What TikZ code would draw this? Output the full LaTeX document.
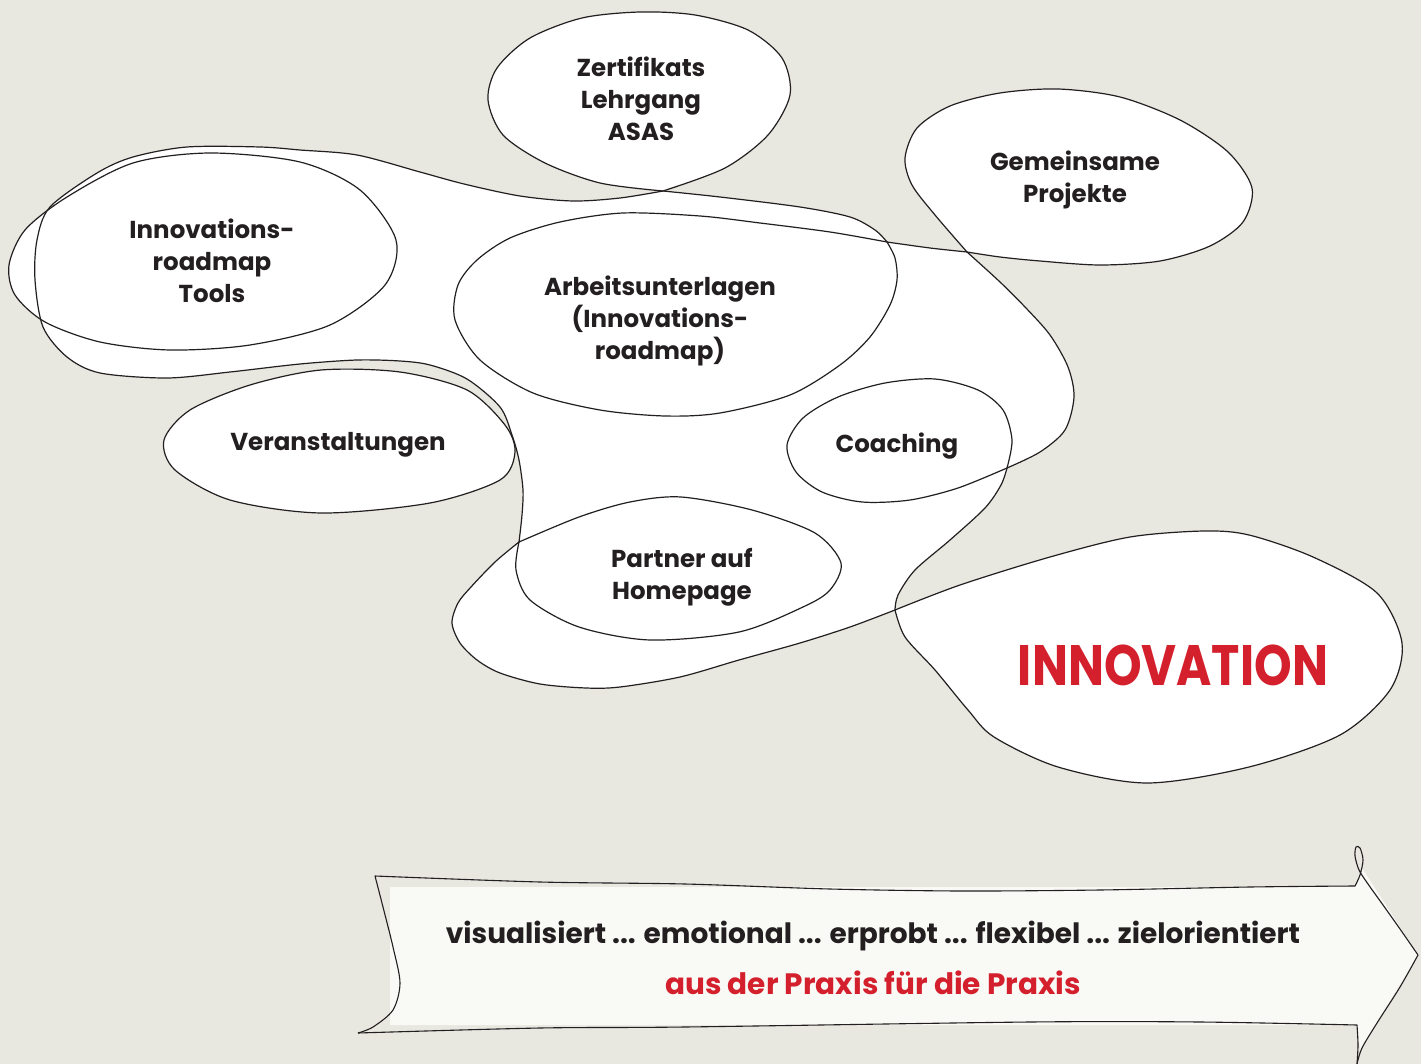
\documentclass[tikz,border=0pt]{standalone}
\usepackage{fontspec}
\usepackage{graphicx}
\setmainfont{Poppins}
\definecolor{bg}{RGB}{232,231,224}
\definecolor{paper}{RGB}{249,249,246}
\definecolor{ink}{RGB}{35,31,32}
\definecolor{innored}{RGB}{212,32,45}

\newcommand\pathZ{plot[smooth] coordinates {(663,191) (725,168) (768,135) (790,95) (782,58) (748,30) (695,15) (640,12) (582,18) (530,38) (497,68) (488,100) (503,135) (545,163) (600,183) (663,191)} -- cycle}
\newcommand\pathG{plot[smooth] coordinates {(967,252) (935,215) (912,185) (905,158) (917,128) (950,106) (1000,93) (1058,89) (1120,97) (1180,120) (1228,152) (1252,188) (1243,222) (1210,246) (1160,261) (1100,265) (1040,261) (1000,257) (967,252)} -- cycle}
\newcommand\pathM{plot[smooth] coordinates {(663,191) (720,197) (800,207) (850,217) (875,230) (887,242)}
 -- plot[smooth] coordinates {(887,242) (930,248) (967,252)}
 -- plot[smooth] coordinates {(967,252) (1000,282) (1025,307) (1050,335) (1068,367) (1074,397) (1065,430) (1040,452) (1007,468)}
 -- plot[smooth] coordinates {(1007,468) (1001,485) (985,508) (950,540) (915,570) (898,595) (895,610)}
 -- plot[smooth] coordinates {(895,610) (850,627) (800,643) (739,660) (680,677) (620,687) (586,688) (540,684) (500,673) (477,660) (460,643) (452,623) (458,603) (471,587) (495,562) (519,542)}
 -- plot[smooth] coordinates {(519,542) (522,515) (523,490) (519,460) (512,435) (500,407) (467,379) (430,365) (400,361) (357,360) (300,364) (230,372) (167,378) (100,373) (67,357) (43,327) (35,280) (37,240) (50,207) (97,173) (133,157) (187,147) (260,147) (300,150) (357,155) (420,172) (464,184) (520,196) (573,201) (620,198) (663,191)} -- cycle}
\newcommand\pathA{plot[smooth] coordinates {(887,242) (895,258) (897,280) (890,305) (870,337) (840,365) (790,395) (720,413) (665,416) (600,410) (533,393) (480,360) (455,320) (458,285) (477,260) (510,238) (560,222) (623,213) (700,216) (760,223) (830,232) (887,242)} -- cycle}
\newcommand\pathC{plot[smooth] coordinates {(1007,468) (1012,440) (1003,410) (978,390) (935,379) (885,383) (838,397) (803,418) (787,445) (796,472) (822,492) (862,502) (910,500) (958,488) (1007,468)} -- cycle}
\newcommand\pathP{plot[smooth] coordinates {(519,542) (579,517) (630,502) (681,497) (752,510) (815,533) (841,563) (830,590) (803,607) (739,632) (650,640) (579,627) (530,600) (516,570) (519,542)} -- cycle}
\newcommand\pathI{plot[smooth] coordinates {(895,610) (960,585) (1050,557) (1130,537) (1204,531) (1249,535) (1313,557) (1377,593) (1402,643) (1390,690) (1340,735) (1249,767) (1147,783) (1058,767) (994,737) (968,710) (935,670) (905,637) (895,610)} -- cycle}
\newcommand\pathT{plot[smooth cycle] coordinates {(9,265) (25,230) (67,197) (133,163) (210,153) (300,162) (360,190) (396,240) (385,285) (330,325) (250,345) (170,350) (100,342) (45,322) (15,295)}}
\newcommand\pathV{plot[smooth cycle] coordinates {(164,440) (190,410) (250,385) (321,370) (400,372) (467,390) (505,425) (515,452) (500,480) (430,503) (321,513) (230,500) (175,470)}}

\begin{document}
\begin{tikzpicture}[x=1pt,y=-1pt,
  outline/.style={draw=ink, line width=1.2pt, line join=round},
  lab/.style={font=\fontsize{24.5}{32}\selectfont\bfseries, text=ink, align=center, inner sep=0pt},
  banner/.style={inner sep=0pt, font=\bfseries}]
\useasboundingbox (0,0) rectangle (1421,1064);
\fill[bg] (0,0) rectangle (1421,1064);

% white fills of all blobs
\fill[white] \pathM;
\fill[white] \pathZ;
\fill[white] \pathG;
\fill[white] \pathA;
\fill[white] \pathC;
\fill[white] \pathP;
\fill[white] \pathI;
\fill[white] \pathT;
\fill[white] \pathV;

% outlines
\path[outline] \pathM;
\path[outline] \pathZ;
\path[outline] \pathG;
\path[outline] \pathA;
\path[outline] \pathC;
\path[outline] \pathP;
\path[outline] \pathI;
\path[outline] \pathT;
\path[outline] \pathV;

% banner
\fill[paper] (390,887) -- (1355,887) -- (1362,868) -- (1418,955) -- (1360,1050) -- (1357,1025) -- (390,1025) -- cycle;
\draw[ink, line width=1.1pt, line join=round]
  plot[smooth] coordinates {(358,1033) (373,1027) (393,1010) (400,983) (393,947) (383,907) (375,876)}
  -- plot[smooth] coordinates {(375,876) (540,882) (685,884) (830,889) (961,891) (1100,890) (1250,887) (1355,886)}
  -- plot[smooth] coordinates {(1355,886) (1360,875) (1363,860) (1360,848) (1356,847) (1355,856) (1359,870) (1368,884) (1383,905) (1400,929) (1418,955)}
  -- plot[smooth] coordinates {(1418,955) (1400,987) (1377,1023) (1362,1048) (1357,1064)};
\draw[ink, line width=1.1pt, line join=round]
  plot[smooth] coordinates {(358,1033) (540,1028) (685,1027) (1030,1022) (1200,1022) (1357,1025)}
  -- plot[smooth] coordinates {(1357,1025) (1358,1045) (1357,1064)};

% labels
\node[lab] (zert) at (641,99) {Zertifikats\\Lehrgang\\ASAS};
\node[lab] (gem) at (1075,180) {Gemeinsame\\Projekte};
\node[lab] (irt) at (212,261) {Innovations-\\roadmap\\Tools};
\node[lab] (arb) at (660,321) {Arbeitsunterlagen\\(Innovations-\\roadmap)};
\node[lab] (ver) at (338,445) {Veranstaltungen};
\node[lab] (coa) at (897,446) {Coaching};
\node[lab] (par) at (682,577) {Partner auf\\Homepage};
\node[inner sep=0pt, text=innored, font=\fontsize{57}{60}\selectfont\bfseries] (inno) at (1173,665) {\scalebox{0.84}[1]{INNOVATION}};
\node[banner, text=ink, font=\fontsize{28}{32}\selectfont\bfseries] (ban1) at (873,936)
  {visualisiert ... emotional ... erprobt ... flexibel ... zielorientiert};
\node[banner, text=innored, font=\fontsize{29.5}{32}\selectfont\bfseries] (ban2) at (873,983)
  {aus der Praxis für die Praxis};
\end{tikzpicture}
\end{document}
